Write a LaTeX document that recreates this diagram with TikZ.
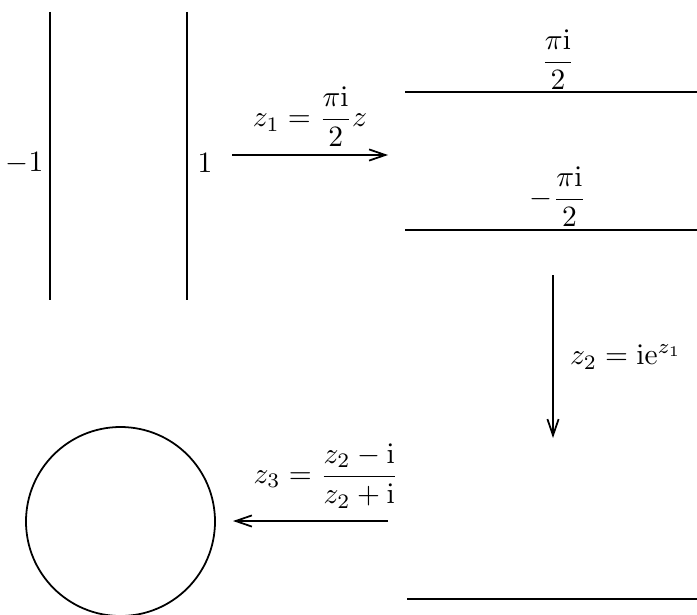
\documentclass[tikz,border=0pt]{standalone}
\usepackage{amsmath}
\usetikzlibrary{arrows.meta}
\begin{document}
\begin{tikzpicture}[x=0.339pt,y=-0.339pt,
  bound/.style={thick},
  mapto/.style={semithick,-{Straight Barb[length=5.5pt,width=3.8pt]}},
  lbl/.style={inner sep=0pt}]
\useasboundingbox (0,0) rectangle (697,614);
% strip in z-plane
\coordinate (l1t) at (50,12);  \coordinate (l1b) at (50,300);
\coordinate (l2t) at (187,12); \coordinate (l2b) at (187,300);
\draw[bound] (l1t) -- (l1b);
\draw[bound] (l2t) -- (l2b);
\node[lbl,anchor=east] (m1) at (44,163) {$-1$};
\node[lbl,anchor=west] (p1) at (197,163) {$1$};
% first map
\coordinate (a1s) at (232,155); \coordinate (a1e) at (388,155);
\draw[mapto] (a1s) -- (a1e);
\node[lbl] (f1) at (310,117) {$z_1=\dfrac{\pi\mathrm{i}}{2}z$};
% horizontal strip
\coordinate (h1l) at (405,92);  \coordinate (h1r) at (697,92);
\coordinate (h2l) at (405,230); \coordinate (h2r) at (697,230);
\draw[bound] (h1l) -- (h1r);
\draw[bound] (h2l) -- (h2r);
\node[lbl] (top) at (558,60) {$\dfrac{\pi\mathrm{i}}{2}$};
\node[lbl] (bot) at (558,197) {$-\dfrac{\pi\mathrm{i}}{2}$};
% second map
\coordinate (a2s) at (553,275); \coordinate (a2e) at (553,438);
\draw[mapto] (a2s) -- (a2e);
\node[lbl] (f2) at (626,357) {$z_2=\mathrm{i}\mathrm{e}^{z_1}$};
% half plane
\coordinate (h3l) at (407,599); \coordinate (h3r) at (697,599);
\draw[bound] (h3l) -- (h3r);
% third map
\coordinate (a3s) at (388,521); \coordinate (a3e) at (233,521);
\draw[mapto] (a3s) -- (a3e);
\node[lbl] (f3) at (326,476) {$z_3=\dfrac{z_2-\mathrm{i}}{z_2+\mathrm{i}}$};
% unit disc
\coordinate (c) at (120.5,521.5);
\draw[semithick] (c) circle[radius=94.5];
\end{tikzpicture}
\end{document}
